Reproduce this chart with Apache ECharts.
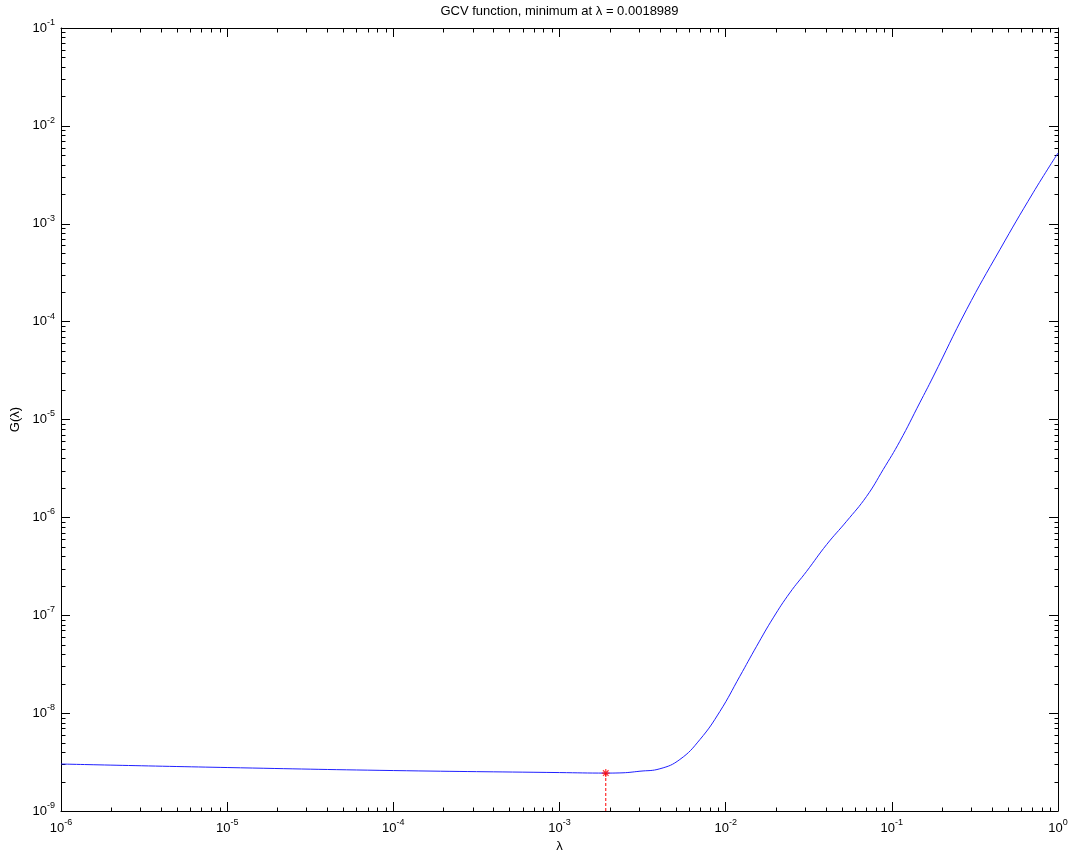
<!DOCTYPE html>
<html>
<head>
<meta charset="utf-8">
<script src="https://cdn.jsdelivr.net/npm/echarts@6/dist/echarts.min.js"></script>
<style>html,body{margin:0;padding:0;background:#fff;}#chart{width:1072px;height:859px;}</style>
</head>
<body>
<div id="chart"></div>
<script>
// ---- data ----
const lambdaVals = [1e-6, 1e-5, 1e-4, 1e-3, 1.8989e-3, 2.31e-3, 3.05e-3, 4.02e-3, 5.30e-3, 7.00e-3, 9.23e-3, 1.217e-2, 1.535e-2, 1.932e-2, 2.43e-2, 3.07e-2, 4.05e-2, 5.34e-2, 7.05e-2, 8.87e-2, 0.1117, 0.1472, 0.1770, 0.2812, 0.4467, 0.708, 1];
const gVals = [3.02e-9, 2.78e-9, 2.59e-9, 2.47e-9, 2.44e-9, 2.45e-9, 2.55e-9, 2.70e-9, 3.36e-9, 5.37e-9, 1.04e-8, 2.38e-8, 4.82e-8, 9.40e-8, 1.69e-7, 2.81e-7, 5.27e-7, 9.12e-7, 1.64e-6, 3.08e-6, 5.98e-6, 1.479e-5, 2.72e-5, 1.32e-4, 5.43e-4, 2.07e-3, 5.28e-3];
const regMin = 0.0018989;
const minG = 2.44e-9;
const xRange = [1e-6, 1];
const yRange = [1e-9, 1e-1];
const titleText = 'GCV function, minimum at \u03bb = 0.0018989';
const xName = '\u03bb';
const yName = 'G(\u03bb)';

// minor tick positions (2..9 x 10^k)
function minorVals(lo, hi) {
  const out = [];
  for (let k = Math.round(Math.log10(lo)); k < Math.round(Math.log10(hi)); k++) {
    for (let m = 2; m <= 9; m++) out.push(m * Math.pow(10, k));
  }
  return out;
}
const tickData = [];
minorVals(xRange[0], xRange[1]).forEach(v => { tickData.push([v, yRange[0], 0]); tickData.push([v, yRange[1], 1]); });
minorVals(yRange[0], yRange[1]).forEach(v => { tickData.push([xRange[0], v, 2]); tickData.push([xRange[1], v, 3]); });

const FONT = 'Liberation Sans, Arial, sans-serif';
const rich = {
  b: { fontFamily: FONT, fontSize: 13, color: '#000', lineHeight: 20 },
  s: { fontFamily: FONT, fontSize: 9, color: '#000', lineHeight: 10, verticalAlign: 'top' }
};
function expLabel(v) {
  const e = Math.round(Math.log10(v));
  return '{b|10}{s|' + e + '}';
}
const lineStyle = { color: '#000', width: 1 };
const majorTick = { show: true, inside: true, length: 9, lineStyle: lineStyle };

const chart = echarts.init(document.getElementById('chart'));
chart.setOption({
  animation: false,
  backgroundColor: '#fff',
  grid: { left: 61, top: 28, right: 14, bottom: 48, containLabel: false },
  xAxis: [
    {
      type: 'log', logBase: 10, min: xRange[0], max: xRange[1], interval: 1, position: 'bottom',
      axisLine: { show: true, lineStyle: lineStyle }, axisTick: majorTick,
      splitLine: { show: false }, minorTick: { show: false },
      axisLabel: { formatter: expLabel, rich: rich, margin: 7, showMinLabel: true, showMaxLabel: true },
      name: xName, nameLocation: 'middle', nameGap: 29,
      nameTextStyle: { fontFamily: FONT, fontSize: 13, color: '#000' }
    },
    {
      type: 'log', logBase: 10, min: xRange[0], max: xRange[1], interval: 1, position: 'top',
      axisLine: { show: true, lineStyle: lineStyle }, axisTick: majorTick,
      splitLine: { show: false }, axisLabel: { show: false },
      name: titleText, nameLocation: 'middle', nameGap: 10,
      nameTextStyle: { fontFamily: FONT, fontSize: 13, color: '#000' }
    }
  ],
  yAxis: [
    {
      type: 'log', logBase: 10, min: yRange[0], max: yRange[1], interval: 1, position: 'left',
      axisLine: { show: true, lineStyle: lineStyle }, axisTick: majorTick,
      splitLine: { show: false },
      axisLabel: { formatter: expLabel, rich: rich, margin: 6, showMinLabel: true, showMaxLabel: true },
      name: yName, nameLocation: 'middle', nameGap: 36, nameRotate: 90,
      nameTextStyle: { fontFamily: FONT, fontSize: 13, color: '#000' }
    },
    {
      type: 'log', logBase: 10, min: yRange[0], max: yRange[1], interval: 1, position: 'right',
      axisLine: { show: true, lineStyle: lineStyle }, axisTick: majorTick,
      splitLine: { show: false }, axisLabel: { show: false }
    }
  ],
  series: [
    {
      type: 'custom', silent: true, clip: false, z: 1,
      data: tickData,
      renderItem: function (params, api) {
        const p = api.coord([api.value(0), api.value(1)]);
        const d = api.value(2);
        const x = Math.round(p[0]) + 0.5, y = Math.round(p[1]) + 0.5;
        const L = 4;
        let shape;
        if (d === 0) shape = { x1: x, y1: y, x2: x, y2: y - L };
        else if (d === 1) shape = { x1: x, y1: y, x2: x, y2: y + L };
        else if (d === 2) shape = { x1: x, y1: y, x2: x + L, y2: y };
        else shape = { x1: x, y1: y, x2: x - L, y2: y };
        return { type: 'line', shape: shape, style: { stroke: '#000', lineWidth: 1 } };
      }
    },
    {
      type: 'line', data: lambdaVals.map((v, i) => [v, gVals[i]]),
      showSymbol: false, symbol: 'none', smooth: 0.45,
      lineStyle: { color: '#2020ff', width: 1 }, z: 2
    },
    {
      type: 'line', data: [[regMin, yRange[0]], [regMin, minG]],
      showSymbol: false, symbol: 'none',
      lineStyle: { color: '#ff0000', width: 1, type: [3, 2] }, z: 3
    },
    {
      type: 'scatter', data: [[regMin, minG]], symbolSize: 8,
      symbol: 'path://M-0.6,-4L0.6,-4L0.6,4L-0.6,4Z M-4,-0.6L4,-0.6L4,0.6L-4,0.6Z M-2.38,-3.22L3.22,2.38L2.38,3.22L-3.22,-2.38Z M-3.22,2.38L2.38,-3.22L3.22,-2.38L-2.38,3.22Z',
      itemStyle: { color: '#ff0000' }, z: 4
    }
  ]
});
</script>
</body>
</html>
